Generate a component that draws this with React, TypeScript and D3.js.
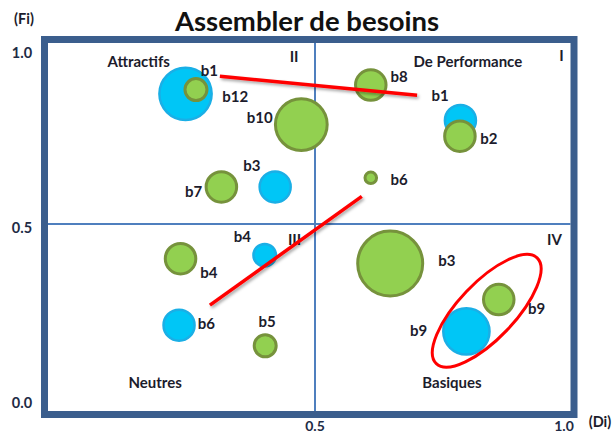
import React from 'react';
import * as d3 from 'd3';

const W = 616;
const H = 435;

// Blue series (first set of needs)
const blueNames = ['b1', 'b2', 'b3', 'b4', 'b6', 'b9'];
const blueX = [0.24, 0.792, 0.42, 0.399, 0.227, 0.804];
const blueY = [0.872, 0.796, 0.606, 0.411, 0.211, 0.193];
const blueSize = [24, 9, 9, 5, 9, 19];

// Green series (second set of needs)
const greenNames = ['b12', 'b8', 'b10', 'b2', 'b7', 'b6', 'b4', 'b5', 'b3', 'b9'];
const greenX = [0.261, 0.612, 0.4725, 0.791, 0.312, 0.612, 0.23, 0.4, 0.651, 0.869];
const greenY = [0.884, 0.897, 0.784, 0.751, 0.606, 0.632, 0.401, 0.152, 0.387, 0.284];
const greenSize = [5, 9, 24, 9, 9, 1.7, 9, 5, 37, 9];

// Point labels
const labelText = ['b1', 'b12', 'b10', 'b3', 'b7', 'b8', 'b1', 'b2', 'b6', 'b4', 'b4', 'b6', 'b5', 'b3', 'b9', 'b9'];
const labelX = [0.288, 0.34, 0.389, 0.373, 0.256, 0.669, 0.751, 0.849, 0.669, 0.354, 0.287, 0.282, 0.404, 0.765, 0.945, 0.708];
const labelY = [0.941, 0.865, 0.807, 0.669, 0.593, 0.922, 0.869, 0.746, 0.63, 0.466, 0.363, 0.218, 0.222, 0.398, 0.26, 0.198];

// Quadrant labels
const quadText = ['Attractifs', 'II', 'De Performance', 'I', 'III', 'IV', 'Neutres', 'Basiques'];
const quadX = [0.146, 0.458, 0.807, 0.995, 0.459, 0.981, 0.179, 0.775];
const quadY = [0.965, 0.981, 0.965, 0.983, 0.456, 0.456, 0.05, 0.05];

// Ticks
const xTicks = [0.5, 1.0];
const yTicks = [0.0, 0.5, 1.0];

// Movement arrows (red lines)
const moveFromX = [0.309, 0.289];
const moveFromY = [0.922, 0.268];
const moveToX = [0.705, 0.594];
const moveToY = [0.868, 0.579];

// Cluster ellipse tips
const clusterTipA = [0.7436, 0.101];
const clusterTipB = [0.946, 0.403];

const FONT = "Lato, 'Open Sans', 'DejaVu Sans', sans-serif";
const TEXT = '#1c1c2c';

export default function App() {
  const x = d3.scaleLinear().domain([0, 1]).range([66, 564]);
  const y = d3.scaleLinear().domain([0, 1]).range([399, 49]);
  const r = d3.scaleSqrt().domain([0, 37]).range([0, 34]);

  const frame = { left: 44.5, right: 574, top: 39.5, bottom: 414.5, sw: 7 };
  const innerL = frame.left + frame.sw / 2;
  const innerR = frame.right - frame.sw / 2;
  const innerT = frame.top + frame.sw / 2;
  const innerB = frame.bottom - frame.sw / 2;

  const blue = blueNames.map((n, i) => ({ n, x: blueX[i], y: blueY[i], s: blueSize[i] }));
  const green = greenNames.map((n, i) => ({ n, x: greenX[i], y: greenY[i], s: greenSize[i] }));

  const ax = x(clusterTipA[0]), ay = y(clusterTipA[1]);
  const bx = x(clusterTipB[0]), by = y(clusterTipB[1]);
  const ecx = (ax + bx) / 2, ecy = (ay + by) / 2;
  const ea = Math.hypot(bx - ax, by - ay) / 2;
  const eang = (Math.atan2(by - ay, bx - ax) * 180) / Math.PI;

  return (
    <svg width={W} height={H} style={{ position: 'absolute', left: 0, top: 0, background: '#fff' }} fontFamily={FONT}>
      <defs>
        <filter id="sh" x="-20%" y="-50%" width="140%" height="200%">
          <feDropShadow dx="1.5" dy="2" stdDeviation="1.5" floodColor="#000" floodOpacity="0.35" />
        </filter>
      </defs>
      <rect x={0} y={0} width={W} height={H} fill="#fff" />
      {/* Title */}
      <text x={307} y={20} textAnchor="middle" dominantBaseline="central" fontSize={27.5} fontWeight="bold" fill="#111">
        Assembler de besoins
      </text>
      <text x={24} y={18} textAnchor="middle" dominantBaseline="central" fontSize={14.5} fontWeight="bold" fill={TEXT}>(Fi)</text>
      <text x={600} y={421} textAnchor="middle" dominantBaseline="central" fontSize={14.5} fontWeight="bold" fill={TEXT}>(Di)</text>

      {/* Quadrant lines */}
      <line x1={x(0.5)} x2={x(0.5)} y1={innerT} y2={innerB} stroke="#4F7FBE" strokeWidth={2} />
      <line x1={innerL} x2={innerR} y1={y(0.5)} y2={y(0.5)} stroke="#4F7FBE" strokeWidth={2} />

      {/* Frame */}
      <rect x={frame.left} y={frame.top} width={frame.right - frame.left} height={frame.bottom - frame.top}
        fill="none" stroke="#3B5E8D" strokeWidth={frame.sw} />

      {/* Ticks */}
      {yTicks.map((v) => (
        <text key={'y' + v} x={22} y={y(v) + 3} textAnchor="middle" dominantBaseline="central" fontSize={14.5} fontWeight="bold" fill="#1e2b45">
          {d3.format('.1f')(v)}
        </text>
      ))}
      {xTicks.map((v) => (
        <text key={'x' + v} x={x(v)} y={431} textAnchor="middle" fontSize={14} fontWeight="bold" fill="#1e2b45">
          {d3.format('.1f')(v)}
        </text>
      ))}

      {/* Quadrant labels */}
      {quadText.map((t, i) => (
        <text key={'q' + i} x={x(quadX[i])} y={y(quadY[i])} textAnchor="middle" dominantBaseline="central" fontSize={15} fontWeight="bold" fill={TEXT}>
          {t}
        </text>
      ))}

      {/* Blue bubbles */}
      {blue.map((d, i) => (
        <circle key={'b' + i} cx={x(d.x)} cy={y(d.y)} r={r(d.s) - 1.25} fill="#00C6F6" stroke="#1AAFE6" strokeWidth={2.5} />
      ))}
      {/* Green bubbles */}
      {green.map((d, i) => (
        <circle key={'g' + i} cx={x(d.x)} cy={y(d.y)} r={r(d.s) - 1.5} fill="#92D050" stroke="#76923C" strokeWidth={3} />
      ))}

      {/* Point labels */}
      {labelText.map((t, i) => (
        <text key={'l' + i} x={x(labelX[i])} y={y(labelY[i])} textAnchor="middle" dominantBaseline="central" fontSize={15} fontWeight="bold" fill={TEXT}>
          {t}
        </text>
      ))}

      {/* Movement lines */}
      {moveFromX.map((_, i) => (
        <line key={'m' + i} x1={x(moveFromX[i])} y1={y(moveFromY[i])} x2={x(moveToX[i])} y2={y(moveToY[i])}
          stroke="#FF0000" strokeWidth={3.5} filter="url(#sh)" />
      ))}

      {/* Cluster ellipse */}
      <ellipse cx={ecx} cy={ecy} rx={ea} ry={28} fill="none" stroke="#FF0000" strokeWidth={3}
        transform={`rotate(${eang}, ${ecx}, ${ecy})`} />
    </svg>
  );
}
